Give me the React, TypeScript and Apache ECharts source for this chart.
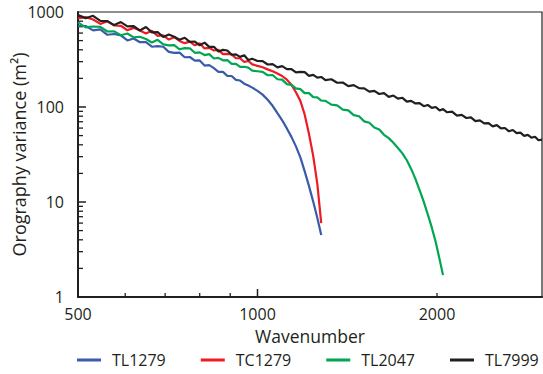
import React, { useEffect, useRef } from "react";
import * as echarts from "echarts";

const wavenumbers = [
  500, 515, 530, 545, 560, 575, 590, 605, 620, 635, 650, 665, 680, 695, 710, 725, 740, 755, 770, 785,
  800, 815, 830, 845, 860, 875, 890, 905, 920, 935, 950, 965, 980, 1000,
  1020, 1040, 1060, 1080, 1100, 1120, 1140, 1160, 1180, 1200, 1220, 1240, 1260, 1279,
  1300, 1330, 1360, 1390, 1420, 1450, 1480, 1510, 1540, 1570, 1600, 1630, 1660, 1690, 1720, 1750,
  1780, 1810, 1840, 1870, 1900, 1930, 1960, 1990, 2020, 2047,
  2080, 2120, 2160, 2200, 2240, 2280, 2320, 2360, 2400, 2440, 2480, 2520, 2560, 2600, 2640, 2680,
  2720, 2760, 2800, 2840, 2880, 2920, 2960, 3000,
];

const tl1279 = [
  712, 712, 641, 657, 576, 587, 568, 502, 526, 481, 481, 431, 437, 431, 380, 371, 373, 334, 336, 308,
  309, 273, 276, 257, 234, 234, 213, 212, 193, 190, 176, 168, 160, 148,
  135, 119, 103, 86, 72.5, 59.5, 48.5, 38.5, 29.5, 21, 14.7, 10.1, 6.8, 4.5,
];

const tc1279 = [
  857, 883, 833, 749, 798, 721, 716, 643, 681, 639, 594, 633, 560, 569, 513, 543, 496, 470, 488, 446,
  469, 414, 419, 393, 399, 360, 363, 358, 326, 326, 298, 305, 281, 271,
  262, 249, 238, 225, 212, 194, 172, 143, 116, 83, 52, 30.6, 15.4, 6,
];

const tl2047 = [
  777, 688, 704, 698, 623, 626, 569, 593, 540, 549, 520, 478, 510, 456, 446, 448, 405, 416, 415, 372,
  376, 352, 360, 324, 329, 310, 311, 285, 285, 264, 265, 260, 241, 238,
  234, 216, 217, 196, 194, 174, 171, 157, 154, 140, 140, 127, 126, 117,
  116, 106, 104, 94, 92, 82, 80, 70.6, 68.3, 60.8, 58.1, 51, 47, 42, 37, 32.5,
  27.5, 22.3, 17.5, 13.3, 10.1, 7.4, 5.4, 3.8, 2.5, 1.7,
];

const tl7999 = [
  930, 858, 912, 805, 801, 728, 783, 706, 710, 639, 696, 611, 613, 546, 579, 549, 511, 536, 484, 489,
  446, 476, 429, 431, 384, 399, 393, 355, 358, 337, 351, 312, 322, 305,
  304, 280, 283, 261, 269, 250, 250, 231, 234, 233, 213, 218, 204, 207,
  192, 196, 180, 181, 166, 170, 158, 157, 145, 148, 137, 140, 128, 132, 122.5, 125,
  114, 116, 109, 110, 102, 105, 98, 100, 92, 95,
  88, 89.4, 81.3, 82.6, 76.6, 77.9, 71, 72.2, 67.2, 67.8, 62.6, 64.4, 59.5, 60.1, 55.5, 57.3,
  53, 53.7, 49.7, 50.8, 47.5, 48.7, 44.7, 45.3,
];

const xTickLabels = [500, 1000, 2000];
const xMajorTicks = [1000];
const xMinorTicks = [600, 700, 800, 900, 2000];
const yTickLabels = [1, 10, 100, 1000];
const yMajorTicks = [10, 100];
const yMinorTicks = [2, 3, 4, 5, 6, 7, 8, 9, 20, 30, 40, 50, 60, 70, 80, 90, 200, 300, 400, 500, 600, 700, 800, 900];

const seriesNames = ["TL1279", "TC1279", "TL2047", "TL7999"];
const seriesColors = ["#3a5ba9", "#ed1c24", "#00a651", "#231f20"];

const INK = "#231f20";
const FONT = "Open Sans";

function pairs(values: number[]) {
  return values.map((v, i) => [wavenumbers[i], v]);
}

export default function App() {
  const ref = useRef<HTMLDivElement>(null);

  useEffect(() => {
    if (!ref.current) return;
    const chart = echarts.init(ref.current, undefined, { renderer: "svg" });
    const dataSets = [tl1279, tc1279, tl2047, tl7999];
    const drawOrder = [3, 0, 2, 1];
    chart.setOption({
      animation: false,
      backgroundColor: "#ffffff",
      textStyle: { fontFamily: FONT, color: INK },
      grid: {
        left: 78,
        right: 1,
        top: 12,
        bottom: 77,
        show: true,
        borderColor: INK,
        borderWidth: 1.2,
        backgroundColor: "transparent",
        outerBoundsMode: "none",
        containLabel: false,
      },
      legend: {
        data: seriesNames,
        left: 77,
        top: 352,
        padding: 0,
        width: 470,
        icon: "rect",
        itemWidth: 24,
        itemHeight: 3,
        itemGap: 35,
        textStyle: { fontFamily: FONT, fontSize: 16, color: INK, padding: [0, 0, 0, 6] },
      },
      xAxis: {
        type: "log",
        logBase: 10,
        min: 500,
        max: 3000,
        name: "Wavenumber",
        nameLocation: "middle",
        nameGap: 28,
        nameTextStyle: { fontFamily: FONT, fontSize: 17.5, color: INK },
        axisLine: { show: true, lineStyle: { color: INK, width: 2 } },
        axisTick: { show: false },
        axisLabel: {
          show: true,
          customValues: xTickLabels,
          margin: 9,
          fontFamily: FONT,
          fontSize: 16,
          color: INK,
          formatter: (v: number) => String(Math.round(v)),
        },
        splitLine: { show: false },
      },
      yAxis: {
        type: "log",
        logBase: 10,
        min: 1,
        max: 1000,
        name: "Orography variance (m²)",
        nameLocation: "middle",
        nameGap: 50,
        nameMoveOverlap: false,
        nameTextStyle: { fontFamily: FONT, fontSize: 18, color: INK },
        axisLine: { show: true, lineStyle: { color: INK, width: 2 } },
        axisTick: { show: false },
        axisLabel: {
          show: true,
          customValues: yTickLabels,
          margin: 14,
          fontFamily: FONT,
          fontSize: 16,
          color: INK,
          formatter: (v: number) => String(Math.round(v)),
        },
        splitLine: { show: false },
      },
      series: drawOrder.map((i) => ({
        name: seriesNames[i],
        type: "line",
        data: pairs(dataSets[i]),
        showSymbol: false,
        symbol: "none",
        color: seriesColors[i],
        lineStyle: { color: seriesColors[i], width: 2.2 },
        z: 2 + i,
      })),
    });

    const elements: any[] = [];
    const px = (v: number) => Number(chart.convertToPixel({ xAxisIndex: 0 }, v));
    const py = (v: number) => Number(chart.convertToPixel({ yAxisIndex: 0 }, v));
    const x0 = px(500);
    const y0 = py(1);
    const tick = (x1: number, y1: number, x2: number, y2: number, w: number) => ({
      type: "line",
      shape: { x1, y1, x2, y2 },
      style: { stroke: INK, lineWidth: w },
    });
    xMajorTicks.forEach((v) => elements.push(tick(px(v), y0, px(v), y0 - 8, 1.5)));
    xMinorTicks.forEach((v) => elements.push(tick(px(v), y0, px(v), y0 - 4, 1.3)));
    yMajorTicks.forEach((v) => elements.push(tick(x0, py(v), x0 + 8, py(v), 1.5)));
    yMinorTicks.forEach((v) => elements.push(tick(x0, py(v), x0 + 5, py(v), 1.3)));
    chart.setOption({ graphic: { elements } });

    return () => chart.dispose();
  }, []);

  return (
    <div
      ref={ref}
      style={{ position: "absolute", left: 0, top: 0, width: 543, height: 374, background: "#fff" }}
    />
  );
}
